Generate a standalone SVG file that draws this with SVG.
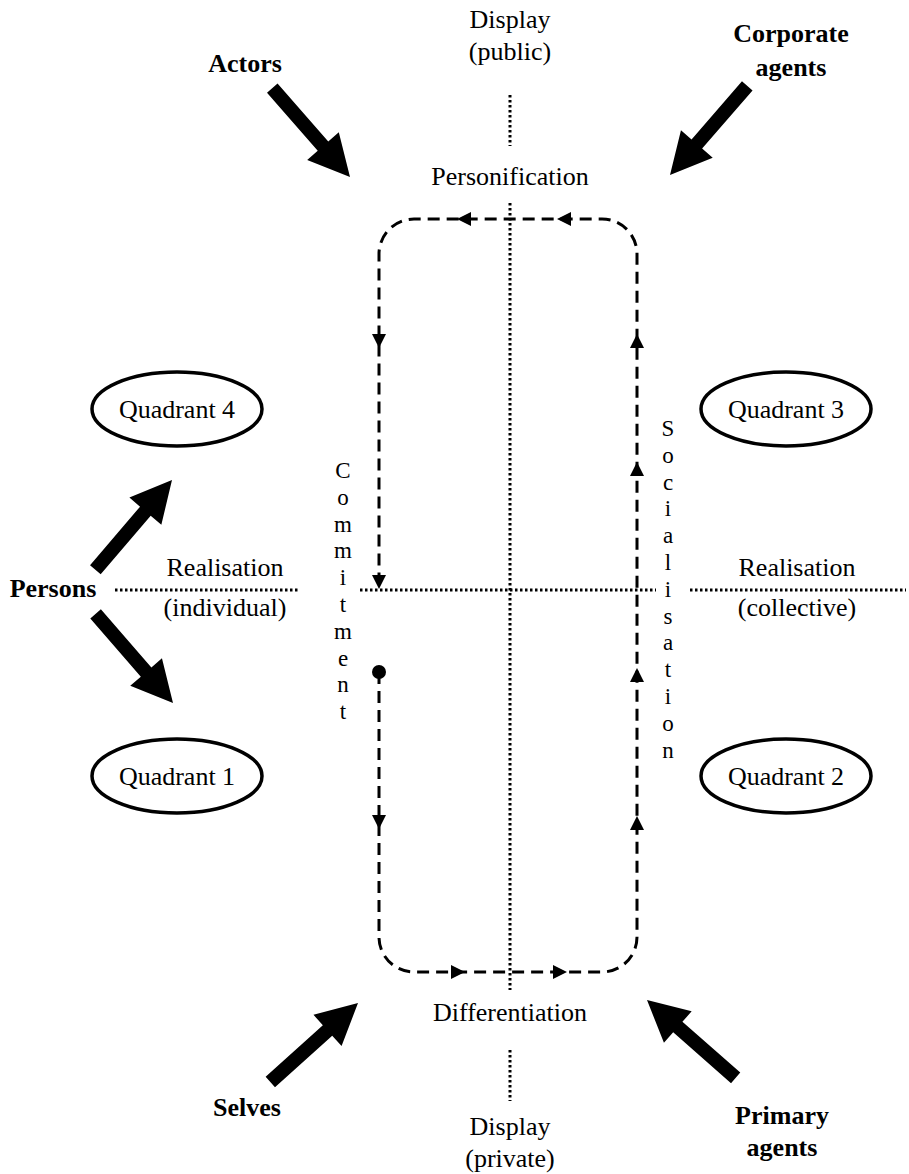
<svg xmlns="http://www.w3.org/2000/svg" xmlns:xlink="http://www.w3.org/1999/xlink" width="909" height="1174" viewBox="0 0 909 1174">
<style>
  .t { font-family: "Liberation Serif", "Times New Roman", serif; font-size: 26px; fill: #000; text-anchor: middle; }
  .v { font-size: 23px; }
  .b { font-weight: bold; }
  .dot { fill: none; stroke: #000; stroke-width: 3; stroke-dasharray: 2.5 2.5; }
  .dash { fill: none; stroke: #000; stroke-width: 3; stroke-dasharray: 12 7; }
  .ell { fill: #fff; stroke: #000; stroke-width: 3.5; }
</style>
<defs>
  <path id="big" d="M0,0 L-41,-21 L-41,-7 L-118,-7 L-118,7 L-41,7 L-41,21 Z" fill="#000"/>
  <path id="small" d="M0,0 L-14,-7 L-14,7 Z" fill="#000"/>
</defs>
<rect width="909" height="1174" fill="#fff"/>

<g id="axes">
  <line class="dot" x1="510" y1="95" x2="510" y2="146"/>
  <line class="dot" x1="510" y1="203" x2="510" y2="990"/>
  <line class="dot" x1="510" y1="1050" x2="510" y2="1101"/>
  <line class="dot" x1="115" y1="590" x2="298" y2="590"/>
  <line class="dot" x1="360" y1="590" x2="656" y2="590"/>
  <line class="dot" x1="690" y1="590" x2="906" y2="590"/>
</g>

<g id="connectors">
  <path class="dash" d="M379,672 V937 A35,35 0 0 0 414,972 H602 A35,35 0 0 0 637,937 V254 A35,35 0 0 0 602,219 H414 A35,35 0 0 0 379,254 V589"/>
  <circle cx="379" cy="672" r="7" fill="#000"/>
  <use xlink:href="#small" transform="translate(457,219) rotate(180)"/>
  <use xlink:href="#small" transform="translate(557,219) rotate(180)"/>
  <use xlink:href="#small" transform="translate(379,348) rotate(90)"/>
  <use xlink:href="#small" transform="translate(379,589) rotate(90)"/>
  <use xlink:href="#small" transform="translate(379,829) rotate(90)"/>
  <use xlink:href="#small" transform="translate(465,972)"/>
  <use xlink:href="#small" transform="translate(567,972)"/>
  <use xlink:href="#small" transform="translate(637,334) rotate(-90)"/>
  <use xlink:href="#small" transform="translate(637,462) rotate(-90)"/>
  <use xlink:href="#small" transform="translate(637,668) rotate(-90)"/>
  <use xlink:href="#small" transform="translate(637,816) rotate(-90)"/>
  <use xlink:href="#big" transform="translate(350,177) rotate(48.8)"/>
  <use xlink:href="#big" transform="translate(670,175) rotate(130.9)"/>
  <use xlink:href="#big" transform="translate(172,480) rotate(-49.5)"/>
  <use xlink:href="#big" transform="translate(173,703) rotate(49)"/>
  <use xlink:href="#big" transform="translate(358,1003) rotate(-42)"/>
  <use xlink:href="#big" transform="translate(647,1000) rotate(-138.7)"/>
</g>

<g id="q4"><ellipse class="ell" cx="177" cy="409" rx="85" ry="37"/><text class="t" x="177" y="418">Quadrant 4</text></g>
<g id="q3"><ellipse class="ell" cx="786" cy="409" rx="85" ry="37"/><text class="t" x="786" y="418">Quadrant 3</text></g>
<g id="q1"><ellipse class="ell" cx="177" cy="776" rx="85" ry="37"/><text class="t" x="177" y="785">Quadrant 1</text></g>
<g id="q2"><ellipse class="ell" cx="786" cy="776" rx="85" ry="37"/><text class="t" x="786" y="785">Quadrant 2</text></g>

<g id="actors"><text class="t b" x="245" y="72">Actors</text></g>
<g id="corporate"><text class="t b" x="791" y="42">Corporate</text><text class="t b" x="791" y="76">agents</text></g>
<g id="persons"><text class="t b" x="53" y="597">Persons</text></g>
<g id="selves"><text class="t b" x="247" y="1116">Selves</text></g>
<g id="primary"><text class="t b" x="782" y="1124">Primary</text><text class="t b" x="782" y="1156">agents</text></g>

<g id="display-public"><text class="t" x="510" y="28">Display</text><text class="t" x="510" y="60">(public)</text></g>
<g id="personification"><text class="t" x="510" y="185">Personification</text></g>
<g id="differentiation"><text class="t" x="510" y="1021">Differentiation</text></g>
<g id="display-private"><text class="t" x="510" y="1135">Display</text><text class="t" x="510" y="1167">(private)</text></g>
<g id="real-ind"><text class="t" x="225" y="576">Realisation</text><text class="t" x="225" y="616">(individual)</text></g>
<g id="real-col"><text class="t" x="797" y="576">Realisation</text><text class="t" x="797" y="616">(collective)</text></g>

<g id="commitment"><text class="t v" x="343" y="478"><tspan x="343">C</tspan><tspan x="343" dy="26.8">o</tspan><tspan x="343" dy="26.8">m</tspan><tspan x="343" dy="26.8">m</tspan><tspan x="343" dy="26.8">i</tspan><tspan x="343" dy="26.8">t</tspan><tspan x="343" dy="26.8">m</tspan><tspan x="343" dy="26.8">e</tspan><tspan x="343" dy="26.8">n</tspan><tspan x="343" dy="26.8">t</tspan></text></g>
<g id="socialisation"><text class="t v" x="668" y="436"><tspan x="668">S</tspan><tspan x="668" dy="26.8">o</tspan><tspan x="668" dy="26.8">c</tspan><tspan x="668" dy="26.8">i</tspan><tspan x="668" dy="26.8">a</tspan><tspan x="668" dy="26.8">l</tspan><tspan x="668" dy="26.8">i</tspan><tspan x="668" dy="26.8">s</tspan><tspan x="668" dy="26.8">a</tspan><tspan x="668" dy="26.8">t</tspan><tspan x="668" dy="26.8">i</tspan><tspan x="668" dy="26.8">o</tspan><tspan x="668" dy="26.8">n</tspan></text></g>
</svg>
